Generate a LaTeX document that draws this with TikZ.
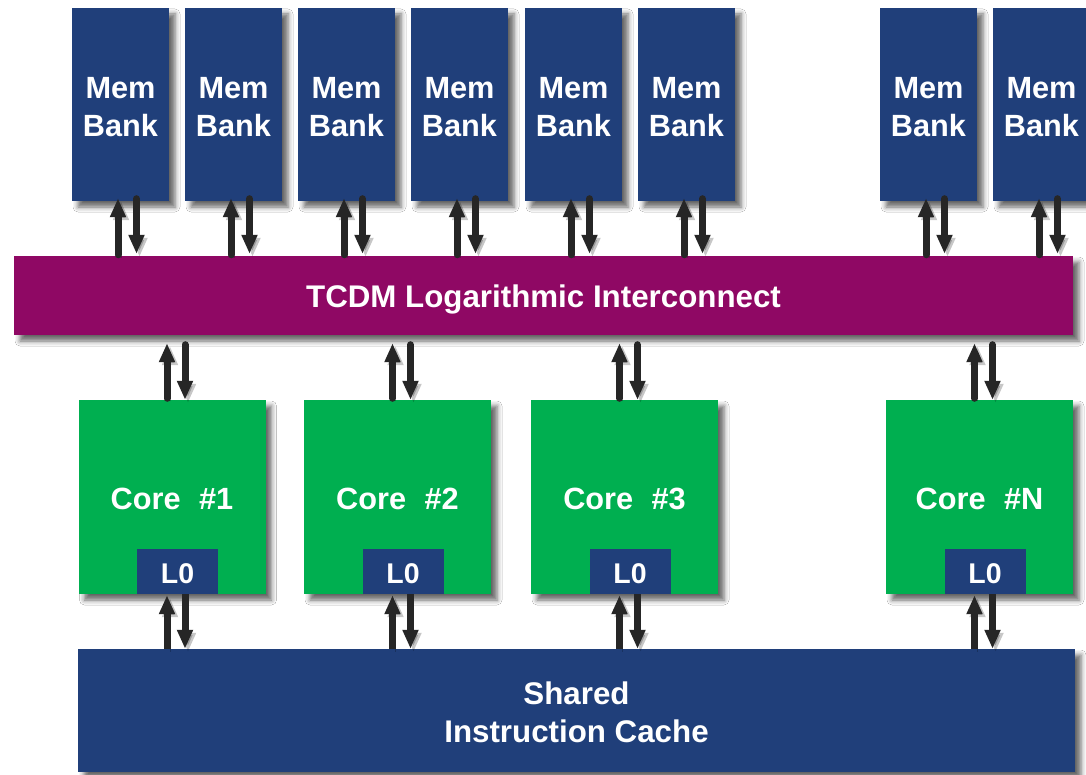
\documentclass[tikz,border=0pt]{standalone}
\usepackage{fontspec}
\setmainfont{Liberation Sans}
\usetikzlibrary{arrows.meta,shadows.blur,calc}
\definecolor{navy}{HTML}{203F7A}
\definecolor{coregreen}{HTML}{00AF50}
\definecolor{tcdmpurple}{HTML}{8F0864}
\definecolor{arrowc}{HTML}{262626}
\newcommand\lift[1]{\rule{0pt}{#1}}
\tikzset{
  box/.style={rectangle, inner sep=0pt, text=white, align=center,
    font=\bfseries\fontsize{30.7}{38}\selectfont,
    blur shadow={shadow xshift=6pt, shadow yshift=-6pt, shadow blur radius=5pt, shadow opacity=60}},
  bankbox/.style={box, fill=navy, minimum width=97pt, minimum height=193pt},
  corebox/.style={box, fill=coregreen, minimum width=187pt, minimum height=194pt},
  lzero/.style={rectangle, inner sep=0pt, fill=navy, text=white, minimum width=81pt, minimum height=45pt,
    font=\bfseries\fontsize{28.5}{30}\selectfont},
  arr/.style={draw=arrowc, line width=7pt, line cap=round, -{Triangle[width=15pt,length=19pt]},
    preaction={draw=black, opacity=0.22, transform canvas={shift={(3pt,-3pt)}}}},
  arrb/.style={arr, line cap=butt},
}
\newcommand\bankarrows[1]{%
  \draw[arr] ($(#1.south |- tcdm.north)+(-2.5,-1)$) -- ($(#1.south)+(-2.5,-3)$);
  \draw[arr] ($(#1.south)+(16,-2.5)$) -- ($(#1.south |- tcdm.north)+(16,-2)$);
}
\newcommand\corearrows[1]{%
  \draw[arr] ($(#1.north)+(-5,-1.5)$) -- ($(#1.north |- tcdm.south)+(-5,8)$);
  \draw[arr] ($(#1.north |- tcdm.south)+(13,9.5)$) -- ($(#1.north)+(13,0)$);
  \draw[arrb] ($(#1.south |- cache.north)+(-5,0)$) -- ($(#1.south)+(-5,1)$);
  \draw[arrb] ($(#1.south)+(13,0)$) -- ($(#1.south |- cache.north)+(13,0)$);
}
\begin{document}
\begin{tikzpicture}[x=1pt,y=-1pt]
\fill[white] (0,0) rectangle (1086,775);
\useasboundingbox (0,0) rectangle (1086,775);

% memory banks
\node[bankbox] (b1) at (120.5,104.5) {\lift{26pt}Mem\\Bank};
\node[bankbox] (b2) at (233.5,104.5) {\lift{26pt}Mem\\Bank};
\node[bankbox] (b3) at (346.5,104.5) {\lift{26pt}Mem\\Bank};
\node[bankbox] (b4) at (459.5,104.5) {\lift{26pt}Mem\\Bank};
\node[bankbox] (b5) at (573.5,104.5) {\lift{26pt}Mem\\Bank};
\node[bankbox] (b6) at (686.5,104.5) {\lift{26pt}Mem\\Bank};
\node[bankbox] (b7) at (928.5,104.5) {\lift{26pt}Mem\\Bank};
\node[bankbox] (b8) at (1041.5,104.5) {\lift{26pt}Mem\\Bank};

% interconnect
\node[box, fill=tcdmpurple, minimum width=1059pt, minimum height=79pt,
      font=\bfseries\fontsize{31.3}{36}\selectfont] (tcdm) at (543.5,295.5) {\lift{31pt}TCDM Logarithmic Interconnect};

% cores
\node[corebox] (c1) at (172,497) {\lift{26pt}Core\hspace{0.6em}\#1};
\node[corebox] (c2) at (397.5,497) {\lift{26pt}Core\hspace{0.6em}\#2};
\node[corebox] (c3) at (624.5,497) {\lift{26pt}Core\hspace{0.6em}\#3};
\node[corebox] (cn) at (979.5,497) {\lift{26pt}Core\hspace{0.6em}\#N};
\node[lzero] (l1) at ($(c1.south)+(5.5,-22.5)$) {\lift{24.5pt}L0};
\node[lzero] (l2) at ($(c2.south)+(5.5,-22.5)$) {\lift{24.5pt}L0};
\node[lzero] (l3) at ($(c3.south)+(5.5,-22.5)$) {\lift{24.5pt}L0};
\node[lzero] (ln) at ($(cn.south)+(5.5,-22.5)$) {\lift{24.5pt}L0};

% shared instruction cache
\node[box, fill=navy, minimum width=997pt, minimum height=123pt,
      font=\bfseries\fontsize{31.3}{38}\selectfont] (cache) at (576.5,710.5) {\lift{27pt}Shared\\Instruction Cache};

% arrows
\bankarrows{b1}\bankarrows{b2}\bankarrows{b3}\bankarrows{b4}
\bankarrows{b5}\bankarrows{b6}\bankarrows{b7}\bankarrows{b8}
\corearrows{c1}\corearrows{c2}\corearrows{c3}\corearrows{cn}
\end{tikzpicture}
\end{document}
